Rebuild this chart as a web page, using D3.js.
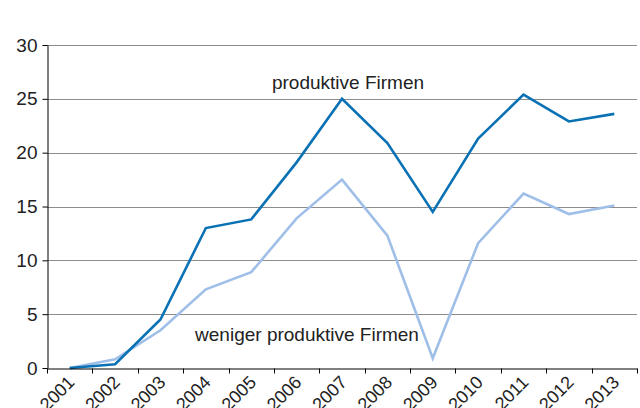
<!DOCTYPE html>
<html>
<head>
<meta charset="utf-8">
<script src="https://cdn.jsdelivr.net/npm/d3@7"></script>
<style>
  body { margin: 0; background: #fff; }
  svg { display: block; font-family: 'Liberation Sans', Arial, sans-serif; }
  .grid line { stroke: #8c8c8c; stroke-width: 1; }
  .axis path, .axis line { stroke: #000; }
  .axis text { fill: #222; }
</style>
</head>
<body>
<div class="chart"></div>
<script>
const YEARS = ['2001', '2002', '2003', '2004', '2005', '2006', '2007', '2008', '2009', '2010', '2011', '2012', '2013']
const PRODUKTIV = [0, 0.35, 4.5, 13.0, 13.8, 19.1, 25.0, 20.9, 14.5, 21.3, 25.4, 22.9, 23.6]
const WENIGER = [0, 0.8, 3.5, 7.3, 8.9, 13.9, 17.5, 12.3, 0.9, 11.6, 16.2, 14.3, 15.1]
const Y_TICKS = [0, 5, 10, 15, 20, 25, 30]

const width = 640
const height = 408
const margin = {top: 45, right: 2, bottom: 40, left: 47}

const svg = d3.select('.chart').append('svg')
  .attr('width', width)
  .attr('height', height)

const x = d3.scaleBand()
  .domain(YEARS)
  .range([margin.left, width - margin.right - 1])

const y = d3.scaleLinear()
  .domain([0, 30])
  .range([height - margin.bottom, margin.top])

// gridlines
svg.append('g').attr('class', 'grid')
  .selectAll('line')
  .data(Y_TICKS.filter(d => d > 0))
  .join('line')
    .attr('x1', margin.left)
    .attr('x2', width - margin.right - 1)
    .attr('y1', d => Math.round(y(d)) + 0.5)
    .attr('y2', d => Math.round(y(d)) + 0.5)

const line = d3.line()
  .x((d, i) => x(YEARS[i]) + x.bandwidth() / 2)
  .y(d => y(d))

svg.append('path')
  .datum(WENIGER)
  .attr('fill', 'none')
  .attr('stroke', '#9fbfe8')
  .attr('stroke-width', 2.6)
  .attr('d', line)

svg.append('path')
  .datum(PRODUKTIV)
  .attr('fill', 'none')
  .attr('stroke', '#0a72b4')
  .attr('stroke-width', 2.6)
  .attr('d', line)

// y axis
const axisY = svg.append('g').attr('class', 'axis axis--y')
  .attr('transform', `translate(${margin.left + 0.5},0)`)
  .call(d3.axisLeft(y).tickValues(Y_TICKS).tickSizeInner(5).tickSizeOuter(0).tickPadding(5))
axisY.selectAll('text').style('font-size', '19px')

// x axis
const axisX = svg.append('g').attr('class', 'axis axis--x')
  .attr('transform', `translate(0,${Math.round(y(0)) + 0.5})`)
  .call(d3.axisBottom(x).tickSize(0).tickFormat(''))

axisX.selectAll('.bound')
  .data(YEARS.concat(['end']))
  .join('line')
    .attr('class', 'bound')
    .attr('x1', (d, i) => Math.round(margin.left + i * x.step()) + 0.5)
    .attr('x2', (d, i) => Math.round(margin.left + i * x.step()) + 0.5)
    .attr('y1', 0)
    .attr('y2', 5)
    .attr('stroke', '#000')

axisX.selectAll('.lbl')
  .data(YEARS)
  .join('text')
    .attr('class', 'lbl')
    .attr('text-anchor', 'end')
    .attr('transform', d => `translate(${x(d) + x.bandwidth() / 2 + 6},${15}) rotate(-45)`)
    .style('font-size', '18px')
    .attr('fill', '#222')
    .text(d => d)

// series labels
svg.append('text')
  .attr('x', 348)
  .attr('y', 89)
  .attr('text-anchor', 'middle')
  .style('font-size', '19px')
  .attr('fill', '#222')
  .text('produktive Firmen')

svg.append('text')
  .attr('x', 307)
  .attr('y', 341)
  .attr('text-anchor', 'middle')
  .style('font-size', '19px')
  .attr('fill', '#222')
  .text('weniger produktive Firmen')
</script>
</body>
</html>
